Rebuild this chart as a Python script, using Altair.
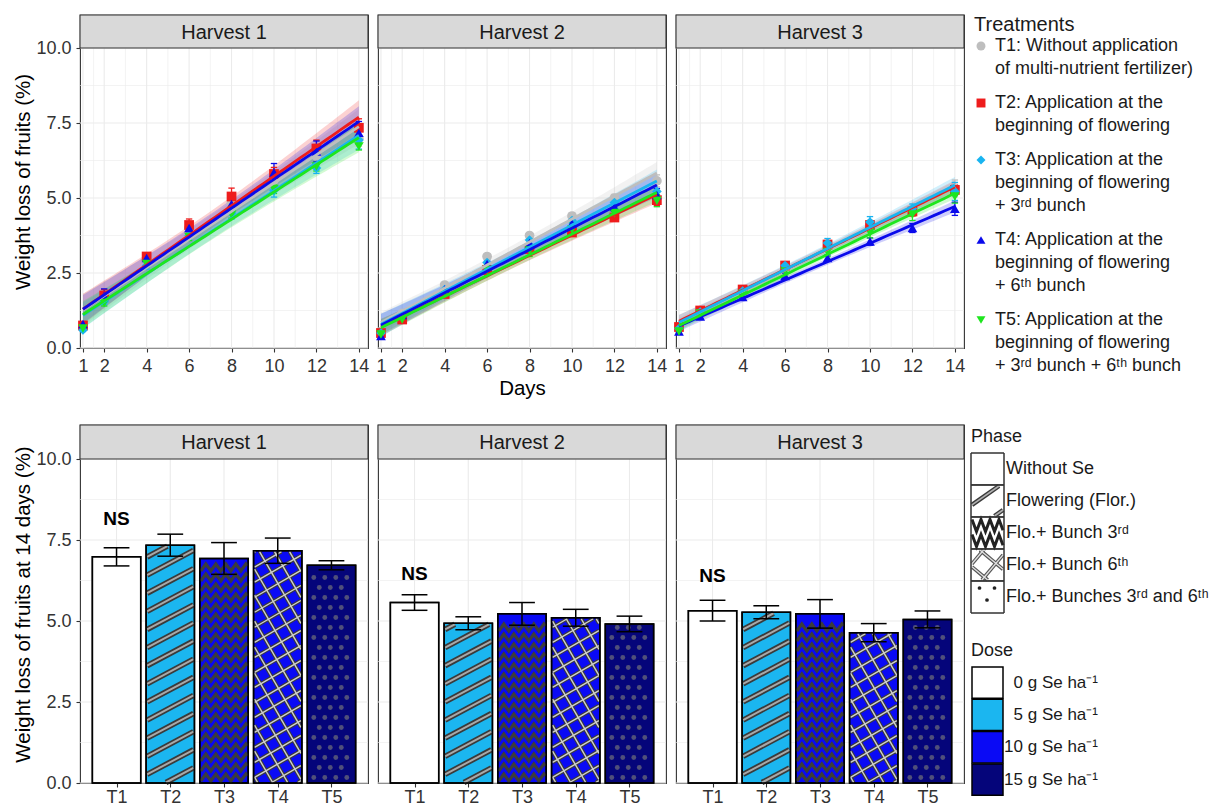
import altair as alt
import numpy as np
import pandas as pd

FONT = "Liberation Sans"

# ---------------- data ----------------
DAYS = [1, 2, 4, 6, 8, 10, 12, 14]
HARVESTS = ["Harvest 1", "Harvest 2", "Harvest 3"]
TREATMENTS = ["T1", "T2", "T3", "T4", "T5"]
TREAT_LABELS = [
    "T1: Without application|of multi-nutrient fertilizer)",
    "T2: Application at the|beginning of flowering",
    "T3: Application at the|beginning of flowering|+ 3ʳᵈ bunch",
    "T4: Application at the|beginning of flowering|+ 6ᵗʰ bunch",
    "T5: Application at the|beginning of flowering|+ 3ʳᵈ bunch + 6ᵗʰ bunch",
]
TREAT_COLORS = ["#BEBEBE", "#EE1C1C", "#19B4F0", "#0A0AEB", "#1EE61E"]
TREAT_SHAPES = ["circle", "square", "diamond", "triangle-up", "triangle-down"]

# mean weight loss (%) at DAYS
H1_T1 = [0.70, 1.70, 2.95, 4.00, 4.85, 5.60, 6.40, 6.98]
H1_T2 = [0.75, 1.75, 3.05, 4.10, 5.05, 5.80, 6.65, 7.34]
H1_T3 = [0.60, 1.55, 2.75, 3.75, 4.50, 5.25, 6.00, 6.93]
H1_T4 = [0.80, 1.75, 3.00, 4.00, 4.80, 5.85, 6.55, 7.17]
H1_T5 = [0.65, 1.50, 2.80, 3.70, 4.45, 5.30, 6.05, 6.72]
H2_T1 = [0.55, 1.15, 2.10, 3.05, 3.75, 4.40, 5.00, 5.57]
H2_T2 = [0.50, 0.95, 1.80, 2.60, 3.30, 3.85, 4.35, 4.93]
H2_T3 = [0.50, 1.10, 1.95, 2.85, 3.60, 4.25, 4.85, 5.22]
H2_T4 = [0.40, 1.10, 1.95, 2.80, 3.50, 4.15, 4.70, 5.10]
H2_T5 = [0.45, 0.95, 1.80, 2.60, 3.25, 3.95, 4.50, 4.91]
H3_T1 = [0.70, 1.20, 1.95, 2.70, 3.40, 4.05, 4.60, 5.32]
H3_T2 = [0.70, 1.25, 1.95, 2.75, 3.45, 4.10, 4.55, 5.27]
H3_T3 = [0.65, 1.20, 1.90, 2.75, 3.50, 4.20, 4.65, 5.22]
H3_T4 = [0.55, 1.05, 1.70, 2.40, 3.00, 3.55, 4.00, 4.64]
H3_T5 = [0.55, 1.15, 1.80, 2.55, 3.20, 3.85, 4.45, 5.05]

# standard errors at DAYS
H1_T1_SE = [0.05, 0.08, 0.10, 0.12, 0.15, 0.18, 0.22, 0.25]
H1_T2_SE = [0.06, 0.20, 0.12, 0.20, 0.28, 0.22, 0.28, 0.30]
H1_T3_SE = [0.05, 0.10, 0.12, 0.15, 0.20, 0.22, 0.18, 0.30]
H1_T4_SE = [0.08, 0.22, 0.15, 0.18, 0.25, 0.30, 0.35, 0.38]
H1_T5_SE = [0.05, 0.10, 0.10, 0.12, 0.12, 0.15, 0.15, 0.12]
H2_T1_SE = [0.05, 0.05, 0.06, 0.08, 0.08, 0.10, 0.12, 0.20]
H2_T2_SE = [0.05, 0.06, 0.08, 0.10, 0.10, 0.12, 0.12, 0.18]
H2_T3_SE = [0.05, 0.06, 0.08, 0.10, 0.12, 0.15, 0.18, 0.30]
H2_T4_SE = [0.05, 0.06, 0.08, 0.10, 0.10, 0.12, 0.15, 0.22]
H2_T5_SE = [0.05, 0.06, 0.10, 0.18, 0.20, 0.22, 0.20, 0.20]
H3_T1_SE = [0.05, 0.06, 0.08, 0.10, 0.12, 0.15, 0.15, 0.28]
H3_T2_SE = [0.05, 0.06, 0.08, 0.10, 0.12, 0.15, 0.15, 0.18]
H3_T3_SE = [0.05, 0.06, 0.08, 0.12, 0.15, 0.18, 0.15, 0.30]
H3_T4_SE = [0.08, 0.06, 0.08, 0.10, 0.10, 0.12, 0.15, 0.22]
H3_T5_SE = [0.05, 0.06, 0.10, 0.15, 0.15, 0.18, 0.20, 0.22]

# weight loss at 14 days (bars)
BAR_H1 = [6.98, 7.34, 6.93, 7.17, 6.72]
BAR_H2 = [5.57, 4.93, 5.22, 5.10, 4.91]
BAR_H3 = [5.32, 5.27, 5.22, 4.64, 5.05]
BAR_H1_SE = [0.28, 0.34, 0.49, 0.39, 0.14]
BAR_H2_SE = [0.24, 0.20, 0.35, 0.26, 0.24]
BAR_H3_SE = [0.32, 0.20, 0.44, 0.28, 0.26]
NS_Y = [8.16, 6.45, 6.40]

DOSE_LABELS = ["0 g Se ha⁻¹", "5 g Se ha⁻¹", "10 g Se ha⁻¹", "15 g Se ha⁻¹"]
DOSE_COLORS = ["#FFFFFF", "#1BB6F0", "#0A0AF5", "#05057A"]
TREAT_DOSE = [0, 1, 2, 2, 3]
PHASE_LABELS = ["Without Se", "Flowering (Flor.)", "Flo.+ Bunch 3ʳᵈ",
                "Flo.+ Bunch 6ᵗʰ", "Flo.+ Bunches 3ʳᵈ and 6ᵗʰ"]
TREAT_PATTERN = ["none", "stripes", "zigzag", "hatch", "dots"]

Y_TICKS = [0, 2.5, 5, 7.5, 10]
Y_MINOR = [1.25, 3.75, 6.25, 8.75]
X_MINOR_TOP = [1.5, 3, 5, 7, 9, 11, 13]

# ---------------- layout / style ----------------
PW = 288
TOP_H, TOP_STRIP = 333, 33
BOT_H, BOT_STRIP = 358, 34
X_TOP = [0.86, 14.43]
X_BOT = [0.32, 5.68]
Y_TOP_MAX = 10.0 * TOP_H / (TOP_H - TOP_STRIP)
Y_BOT_MAX = 10.0 * BOT_H / (BOT_H - BOT_STRIP)
BAR_HALF = 0.45
BORDER = "#333333"
GRID = "#EBEBEB"
STRIP_FILL = "#D9D9D9"

MEANS = {
    "Harvest 1": [H1_T1, H1_T2, H1_T3, H1_T4, H1_T5],
    "Harvest 2": [H2_T1, H2_T2, H2_T3, H2_T4, H2_T5],
    "Harvest 3": [H3_T1, H3_T2, H3_T3, H3_T4, H3_T5],
}
SES = {
    "Harvest 1": [H1_T1_SE, H1_T2_SE, H1_T3_SE, H1_T4_SE, H1_T5_SE],
    "Harvest 2": [H2_T1_SE, H2_T2_SE, H2_T3_SE, H2_T4_SE, H2_T5_SE],
    "Harvest 3": [H3_T1_SE, H3_T2_SE, H3_T3_SE, H3_T4_SE, H3_T5_SE],
}
BARS = {"Harvest 1": (BAR_H1, BAR_H1_SE), "Harvest 2": (BAR_H2, BAR_H2_SE),
        "Harvest 3": (BAR_H3, BAR_H3_SE)}

# ---------------- derived tables ----------------
TOP_CAP = 0.15
rows = []
for h in HARVESTS:
    for k, lab in enumerate(TREAT_LABELS):
        for d, m, s in zip(DAYS, MEANS[h][k], SES[h][k]):
            rows.append(dict(harvest=h, treatment=lab, day=d, mean=m, lo=m - s, hi=m + s,
                             cx0=d - TOP_CAP, cx1=d + TOP_CAP))
top_pts = pd.DataFrame(rows)


def lm_fit(yv):
    x = np.array(DAYS, float)
    y = np.array(yv, float)
    b1, b0 = np.polyfit(x, y, 1)
    grid = np.linspace(1, 14, 53)
    fit = b0 + b1 * grid
    res = y - (b0 + b1 * x)
    s = np.sqrt((res ** 2).sum() / (len(x) - 2))
    se = s * np.sqrt(1 / len(x) + (grid - x.mean()) ** 2 / ((x - x.mean()) ** 2).sum())
    return grid, fit, fit - 2.447 * se, fit + 2.447 * se


rows = []
for h in HARVESTS:
    for k, lab in enumerate(TREAT_LABELS):
        g, f, lo, hi = lm_fit(MEANS[h][k])
        for a, b, c, e in zip(g, f, lo, hi):
            rows.append(dict(harvest=h, treatment=lab, day=a, fit=b, lo=c, hi=e))
top_fit = pd.DataFrame(rows)

BOT_CAP = 0.24
rows = []
for h in HARVESTS:
    ms, ss = BARS[h]
    for k, code in enumerate(TREATMENTS):
        pos = k + 1
        rows.append(dict(harvest=h, code=code, pos=pos, mean=ms[k], lo=ms[k] - ss[k],
                         hi=ms[k] + ss[k], x0=pos - BAR_HALF, x1=pos + BAR_HALF,
                         c0=pos - BOT_CAP, c1=pos + BOT_CAP, dose=DOSE_LABELS[TREAT_DOSE[k]]))
bars = pd.DataFrame(rows)


# ---------------- pattern geometry (decoration) ----------------
def clip_line(px, py, dx, dy, x0, x1, y0, y1):
    t0, t1 = -1e9, 1e9
    for p, d, lo, hi in ((px, dx, x0, x1), (py, dy, y0, y1)):
        if abs(d) < 1e-12:
            if p < lo or p > hi:
                return None
            continue
        a, b = (lo - p) / d, (hi - p) / d
        t0, t1 = max(t0, min(a, b)), min(t1, max(a, b))
    if t1 - t0 < 1.0:
        return None
    return (px + t0 * dx, py + t0 * dy, px + t1 * dx, py + t1 * dy)


def stripe_segments(x0, x1, y0, y1, angle, spacing):
    a = np.radians(angle)
    dx, dy = np.cos(a), np.sin(a)
    nx, ny = -dy, dx
    proj = [cx * nx + cy * ny for cx in (x0, x1) for cy in (y0, y1)]
    segs = []
    c = np.ceil(min(proj) / spacing) * spacing
    while c <= max(proj):
        s = clip_line(c * nx, c * ny, dx, dy, x0, x1, y0, y1)
        if s:
            segs.append(s)
        c += spacing
    return segs


def zigzag_lines(x0, x1, y0, y1, period, amp, spacing):
    lines = []
    yb = y0 + spacing / 2
    while yb + amp / 2 <= y1:
        pts = []
        k = 0
        x = x0
        while True:
            yy = yb + (amp / 2 if k % 2 else -amp / 2)
            if x >= x1:
                px_, py_ = pts[-1]
                f = (x1 - px_) / (x - px_)
                pts.append((x1, py_ + f * (yy - py_)))
                break
            pts.append((x, yy))
            x += period / 2
            k += 1
        lines.append(pts)
        yb += spacing
    return lines


def dot_points(x0, x1, y0, y1, dx, dy, r):
    pts = []
    row = 0
    y = y0 + dy / 2
    while y <= y1 - r:
        x = x0 + (dx / 2 if row % 2 == 0 else dx)
        while x <= x1 - r:
            pts.append((x, y))
            x += dx
        y += dy
        row += 1
    return pts


SXB = PW / (X_BOT[1] - X_BOT[0])
SYB = (BOT_H - BOT_STRIP) / 10.0

pat_stripes, pat_hatch, pat_zig, pat_dots = [], [], [], []
zid = 0
for _, r in bars.iterrows():
    pat = TREAT_PATTERN[r.pos - 1]
    x0, x1 = r.x0 * SXB + 1.0, r.x1 * SXB - 1.0
    y0, y1 = 0.5, r["mean"] * SYB - 1.0
    if pat == "stripes":
        for s in stripe_segments(x0, x1, y0, y1, 28, 16):
            pat_stripes.append(dict(harvest=r.harvest, x=s[0] / SXB, y=s[1] / SYB,
                                    x2=s[2] / SXB, y2=s[3] / SYB))
    elif pat == "hatch":
        for ang in (-60, 30):
            for s in stripe_segments(x0, x1, y0, y1, ang, 13):
                pat_hatch.append(dict(harvest=r.harvest, x=s[0] / SXB, y=s[1] / SYB,
                                      x2=s[2] / SXB, y2=s[3] / SYB))
    elif pat == "zigzag":
        for line in zigzag_lines(x0, x1, y0, y1, 10, 7, 10):
            zid += 1
            for o, (px_, py_) in enumerate(line):
                pat_zig.append(dict(harvest=r.harvest, g=zid, o=o, x=px_ / SXB, y=py_ / SYB))
    elif pat == "dots":
        for px_, py_ in dot_points(x0, x1, y0, y1, 11, 10, 2.5):
            pat_dots.append(dict(harvest=r.harvest, x=px_ / SXB, y=py_ / SYB))
pat_stripes = pd.DataFrame(pat_stripes)
pat_hatch = pd.DataFrame(pat_hatch)
pat_zig = pd.DataFrame(pat_zig)
pat_dots = pd.DataFrame(pat_dots)

# ---------------- scales ----------------
color_scale = alt.Scale(domain=TREAT_LABELS, range=TREAT_COLORS)
shape_scale = alt.Scale(domain=TREAT_LABELS, range=TREAT_SHAPES)
fill_scale = alt.Scale(domain=DOSE_LABELS, range=DOSE_COLORS)


def grid_layers(xmaj, xmin, ymaj, ymin, X, Y, strip, H):
    out = []
    for vals, w in ((xmin, 0.6), (xmaj, 1.1)):
        if not vals:
            continue
        out.append(alt.Chart(pd.DataFrame({"g": vals})).mark_rule(color=GRID, strokeWidth=w)
                   .encode(x=X("g:Q"), y=alt.value(strip), y2=alt.value(H)))
    for vals, w in ((ymin, 0.6), (ymaj, 1.1)):
        out.append(alt.Chart(pd.DataFrame({"g": vals})).mark_rule(color=GRID, strokeWidth=w)
                   .encode(y=Y("g:Q"), x=alt.value(0), x2=alt.value(PW)))
    return out


def strip_layers(h, strip):
    d = pd.DataFrame({"harvest": [h]})
    rect = alt.Chart(d).mark_rect(fill=STRIP_FILL, stroke=BORDER, strokeWidth=1.1).encode(
        x=alt.value(0), x2=alt.value(PW), y=alt.value(0), y2=alt.value(strip))
    txt = alt.Chart(d).mark_text(fontSize=20, color="#1A1A1A", baseline="middle").encode(
        x=alt.value(PW / 2), y=alt.value(strip / 2 + 1), text="harvest:N")
    return [rect, txt]


def top_panel(i):
    h = HARVESTS[i]
    pts = top_pts[top_pts.harvest == h]
    fit = top_fit[top_fit.harvest == h]
    xs = alt.Scale(domain=X_TOP, nice=False, zero=False)
    ys = alt.Scale(domain=[0, Y_TOP_MAX], nice=False, zero=False)
    xaxis = alt.Axis(values=DAYS, title="Days" if i == 1 else None, labelPadding=5)
    yaxis = alt.Axis(values=Y_TICKS, format=".1f", title="Weight loss of fruits (%)") if i == 0 else None

    def X(f):
        return alt.X(f, scale=xs, axis=xaxis)

    def Y(f):
        return alt.Y(f, scale=ys, axis=yaxis, stack=None)

    col = alt.Color("treatment:N", scale=color_scale, legend=None)
    band = alt.Chart(fit).mark_area(opacity=0.2).encode(x=X("day:Q"), y=Y("lo:Q"), y2="hi:Q", color=col)
    err = alt.Chart(pts).mark_rule(strokeWidth=1.3).encode(x=X("day:Q"), y=Y("lo:Q"), y2="hi:Q", color=col)
    cap1 = alt.Chart(pts).mark_rule(strokeWidth=1.3).encode(x=X("cx0:Q"), x2="cx1:Q", y=Y("hi:Q"), color=col)
    cap2 = alt.Chart(pts).mark_rule(strokeWidth=1.3).encode(x=X("cx0:Q"), x2="cx1:Q", y=Y("lo:Q"), color=col)
    points = alt.Chart(pts).mark_point(filled=True, size=95, opacity=1).encode(
        x=X("day:Q"), y=Y("mean:Q"), color=col,
        shape=alt.Shape("treatment:N", scale=shape_scale, legend=None))
    line = alt.Chart(fit).mark_line(strokeWidth=2.8).encode(x=X("day:Q"), y=Y("fit:Q"), color=col)
    layers = grid_layers(DAYS, X_MINOR_TOP, Y_TICKS, Y_MINOR, X, Y, TOP_STRIP, TOP_H)
    layers += [band, err, cap1, cap2, points, line]
    layers += strip_layers(h, TOP_STRIP)
    return alt.layer(*layers).properties(width=PW, height=TOP_H)


def bottom_panel(i):
    h = HARVESTS[i]
    b = bars[bars.harvest == h]
    xs = alt.Scale(domain=X_BOT, nice=False, zero=False)
    ys = alt.Scale(domain=[0, Y_BOT_MAX], nice=False, zero=False)
    lab_expr = "[" + ",".join("'%s'" % t for t in TREATMENTS) + "][datum.value - 1]"
    xaxis = alt.Axis(values=list(range(1, len(TREATMENTS) + 1)), labelExpr=lab_expr, title=None,
                     labelPadding=1)
    yaxis = alt.Axis(values=Y_TICKS, format=".1f",
                     title="Weight loss of fruits at 14 days (%)") if i == 0 else None

    def X(f):
        return alt.X(f, scale=xs, axis=xaxis)

    def Y(f):
        return alt.Y(f, scale=ys, axis=yaxis)

    base = alt.Chart(b)
    bar = base.mark_rect(stroke="black", strokeWidth=1.5).encode(
        x=X("x0:Q"), x2="x1:Q", y=Y("mean:Q"), y2=alt.value(BOT_H),
        fill=alt.Fill("dose:N", scale=fill_scale, legend=None))
    st = pat_stripes[pat_stripes.harvest == h]
    ha = pat_hatch[pat_hatch.harvest == h]
    zz = pat_zig[pat_zig.harvest == h]
    dd = pat_dots[pat_dots.harvest == h]
    st1 = alt.Chart(st).mark_rule(color="#3A3A3A", strokeWidth=5.5).encode(
        x=X("x:Q"), y=Y("y:Q"), x2="x2:Q", y2="y2:Q")
    st2 = alt.Chart(st).mark_rule(color="#A8A8A8", strokeWidth=2).encode(
        x=X("x:Q"), y=Y("y:Q"), x2="x2:Q", y2="y2:Q")
    ha1 = alt.Chart(ha).mark_rule(color="#3A3A3A", strokeWidth=3.6).encode(
        x=X("x:Q"), y=Y("y:Q"), x2="x2:Q", y2="y2:Q")
    ha2 = alt.Chart(ha).mark_rule(color="#CFCFCF", strokeWidth=1.4).encode(
        x=X("x:Q"), y=Y("y:Q"), x2="x2:Q", y2="y2:Q")
    zl = alt.Chart(zz).mark_line(color="#3C3C3C", strokeWidth=3.2, strokeJoin="miter").encode(
        x=X("x:Q"), y=Y("y:Q"), detail="g:N", order="o:Q")
    dt = alt.Chart(dd).mark_circle(color="#50507A", size=24, opacity=1).encode(x=X("x:Q"), y=Y("y:Q"))
    outline = base.mark_rect(fillOpacity=0, stroke="black", strokeWidth=1.5).encode(
        x=X("x0:Q"), x2="x1:Q", y=Y("mean:Q"), y2=alt.value(BOT_H))
    err = base.mark_rule(color="black", strokeWidth=1.5).encode(x=X("pos:Q"), y=Y("lo:Q"), y2="hi:Q")
    cap1 = base.mark_rule(color="black", strokeWidth=1.5).encode(x=X("c0:Q"), x2="c1:Q", y=Y("hi:Q"))
    cap2 = base.mark_rule(color="black", strokeWidth=1.5).encode(x=X("c0:Q"), x2="c1:Q", y=Y("lo:Q"))
    ns = alt.Chart(pd.DataFrame({"pos": [1], "y": [NS_Y[i]], "t": ["NS"]})).mark_text(
        fontSize=19, fontWeight="bold", color="black").encode(x=X("pos:Q"), y=Y("y:Q"), text="t:N")
    layers = grid_layers(list(range(1, 6)), [], Y_TICKS, Y_MINOR, X, Y, BOT_STRIP, BOT_H)
    layers += [bar, st1, st2, ha1, ha2, zl, dt, outline, err, cap1, cap2, ns]
    layers += strip_layers(h, BOT_STRIP)
    return alt.layer(*layers).properties(width=PW, height=BOT_H)


# ---------------- legends (drawn as small charts) ----------------
LEG_W = 235
NO_VIEW = alt.ViewBackground(strokeOpacity=0)

line_h = 23
entry_y = []
yy = 31
for lab in TREAT_LABELS:
    entry_y.append(yy)
    yy += (lab.count("|") + 1) * line_h + 11
tl = pd.DataFrame({"treatment": TREAT_LABELS, "ly": entry_y})
tly = alt.Scale(domain=[0, TOP_H], nice=False, zero=False, reverse=True)
tl_sym = alt.Chart(tl).mark_point(filled=True, size=80, opacity=1).encode(
    x=alt.value(15), y=alt.Y("ly:Q", scale=tly, axis=None),
    color=alt.Color("treatment:N", scale=color_scale, legend=None),
    shape=alt.Shape("treatment:N", scale=shape_scale, legend=None))
tl_txt = alt.Chart(tl).mark_text(align="left", baseline="middle", lineBreak="|", lineHeight=line_h,
                                 fontSize=18, color="#1A1A1A").encode(
    x=alt.value(29), y=alt.Y("ly:Q", scale=tly, axis=None), text="treatment:N")
tl_title = alt.Chart(pd.DataFrame({"t": ["Treatments"]})).mark_text(
    align="left", baseline="middle", fontSize=20, color="#1A1A1A").encode(
    x=alt.value(8), y=alt.value(10), text="t:N")
top_legend = alt.layer(tl_sym, tl_txt, tl_title).properties(width=LEG_W, height=TOP_H, view=NO_VIEW)

# Phase + Dose legend (pixel space inside the legend chart, y downward)
LEG_H = 372
SW = 33
ph_rows = pd.DataFrame({"label": PHASE_LABELS,
                        "y0": [28 + 32 * k for k in range(5)],
                        "y1": [28 + 32 * (k + 1) for k in range(5)]})
ph_rows["yc"] = (ph_rows.y0 + ph_rows.y1) / 2
ph_rows["x0"] = 0
ph_rows["x1"] = SW
lx = alt.Scale(domain=[0, LEG_W], nice=False, zero=False)
ly = alt.Scale(domain=[0, LEG_H], nice=False, zero=False, reverse=True)


def LX(f):
    return alt.X(f, scale=lx, axis=None)


def LY(f):
    return alt.Y(f, scale=ly, axis=None)


l_st, l_ha, l_zz, l_dd = [], [], [], []
gid = 0
for k, r in ph_rows.iterrows():
    x0, x1, y0, y1 = 1, SW - 1, r.y0 + 1, r.y1 - 1
    if k == 1:
        for s in stripe_segments(x0, x1, y0, y1, -35, 22):
            l_st.append(dict(x=s[0], y=s[1], x2=s[2], y2=s[3]))
    elif k == 2:
        for line in zigzag_lines(x0, x1, y0, y1, 9, 12, 15):
            gid += 1
            for o, (px_, py_) in enumerate(line):
                l_zz.append(dict(g=gid, o=o, x=px_, y=py_))
    elif k == 3:
        for ang in (40, -50):
            for s in stripe_segments(x0, x1, y0, y1, ang, 18):
                l_ha.append(dict(x=s[0], y=s[1], x2=s[2], y2=s[3]))
    elif k == 4:
        for px_, py_ in dot_points(x0, x1, y0, y1, 15, 12, 2):
            l_dd.append(dict(x=px_, y=py_))
l_st, l_ha, l_zz, l_dd = map(pd.DataFrame, (l_st, l_ha, l_zz, l_dd))

ph_rect = alt.Chart(ph_rows).mark_rect(fill="white", stroke=BORDER, strokeWidth=1).encode(
    x=LX("x0:Q"), x2="x1:Q", y=LY("y0:Q"), y2="y1:Q")
ph_st1 = alt.Chart(l_st).mark_rule(color="#3A3A3A", strokeWidth=4.5).encode(
    x=LX("x:Q"), y=LY("y:Q"), x2="x2:Q", y2="y2:Q")
ph_st2 = alt.Chart(l_st).mark_rule(color="#B0B0B0", strokeWidth=1.6).encode(
    x=LX("x:Q"), y=LY("y:Q"), x2="x2:Q", y2="y2:Q")
ph_ha1 = alt.Chart(l_ha).mark_rule(color="#555555", strokeWidth=3.6).encode(
    x=LX("x:Q"), y=LY("y:Q"), x2="x2:Q", y2="y2:Q")
ph_ha2 = alt.Chart(l_ha).mark_rule(color="#E0E0E0", strokeWidth=1.4).encode(
    x=LX("x:Q"), y=LY("y:Q"), x2="x2:Q", y2="y2:Q")
ph_zz = alt.Chart(l_zz).mark_line(color="#222222", strokeWidth=3).encode(
    x=LX("x:Q"), y=LY("y:Q"), detail="g:N", order="o:Q")
ph_dd = alt.Chart(l_dd).mark_circle(color="#222222", size=14, opacity=1).encode(x=LX("x:Q"), y=LY("y:Q"))
ph_out = alt.Chart(ph_rows).mark_rect(fillOpacity=0, stroke=BORDER, strokeWidth=1).encode(
    x=LX("x0:Q"), x2="x1:Q", y=LY("y0:Q"), y2="y1:Q")
ph_txt = alt.Chart(ph_rows).mark_text(align="left", baseline="middle", fontSize=18, color="#1A1A1A").encode(
    x=alt.value(SW + 2), y=LY("yc:Q"), text="label:N")

DOSE_Y0 = 242
DOSE_STEP = 32.3
do_rows = pd.DataFrame({"dose": DOSE_LABELS,
                        "y0": [DOSE_Y0 + DOSE_STEP * k for k in range(4)],
                        "y1": [DOSE_Y0 + DOSE_STEP * (k + 1) - 1 for k in range(4)]})
do_rows["yc"] = (do_rows.y0 + do_rows.y1) / 2
do_rows["x0"] = 1
do_rows["x1"] = SW - 1
do_rect = alt.Chart(do_rows).mark_rect(stroke="black", strokeWidth=1.5).encode(
    x=LX("x0:Q"), x2="x1:Q", y=LY("y0:Q"), y2="y1:Q",
    fill=alt.Fill("dose:N", scale=fill_scale, legend=None))
do_txt = alt.Chart(do_rows).mark_text(align="right", baseline="middle", fontSize=17, color="#1A1A1A").encode(
    x=alt.value(127), y=LY("yc:Q"), text="dose:N")
titles = pd.DataFrame({"t": ["Phase", "Dose"], "y": [12, 226]})
leg_titles = alt.Chart(titles).mark_text(align="left", baseline="middle", fontSize=18, color="#1A1A1A").encode(
    x=alt.value(0), y=LY("y:Q"), text="t:N")
bottom_legend = alt.layer(ph_rect, ph_st1, ph_st2, ph_ha1, ph_ha2, ph_zz, ph_dd, ph_out, ph_txt,
                          do_rect, do_txt, leg_titles).properties(width=LEG_W, height=LEG_H, view=NO_VIEW)

# ---------------- assemble ----------------
top_row = alt.hconcat(
    alt.hconcat(*[top_panel(i) for i in range(3)], spacing=10, bounds="flush"),
    top_legend, spacing=0)
bottom_row = alt.hconcat(
    alt.hconcat(*[bottom_panel(i) for i in range(3)], spacing=10, bounds="flush"),
    bottom_legend, spacing=0)

chart = alt.vconcat(top_row, bottom_row, spacing=23).properties(
    padding={"left": 13, "top": 13, "right": 0, "bottom": 0}
).configure(font=FONT).configure_view(stroke=BORDER, strokeWidth=1.1).configure_axis(
    labelFont=FONT, labelFontSize=18, labelColor="#333333", tickColor=BORDER, tickSize=4,
    tickWidth=1.1, domain=False, grid=False, titleFont=FONT, titleFontSize=20.5,
    titleFontWeight="normal", titleColor="#000000"
).configure_axisX(titlePadding=3).configure_axisY(labelPadding=5, titlePadding=2)

chart.save("out.html", embed_options={"renderer": "svg", "actions": False})
